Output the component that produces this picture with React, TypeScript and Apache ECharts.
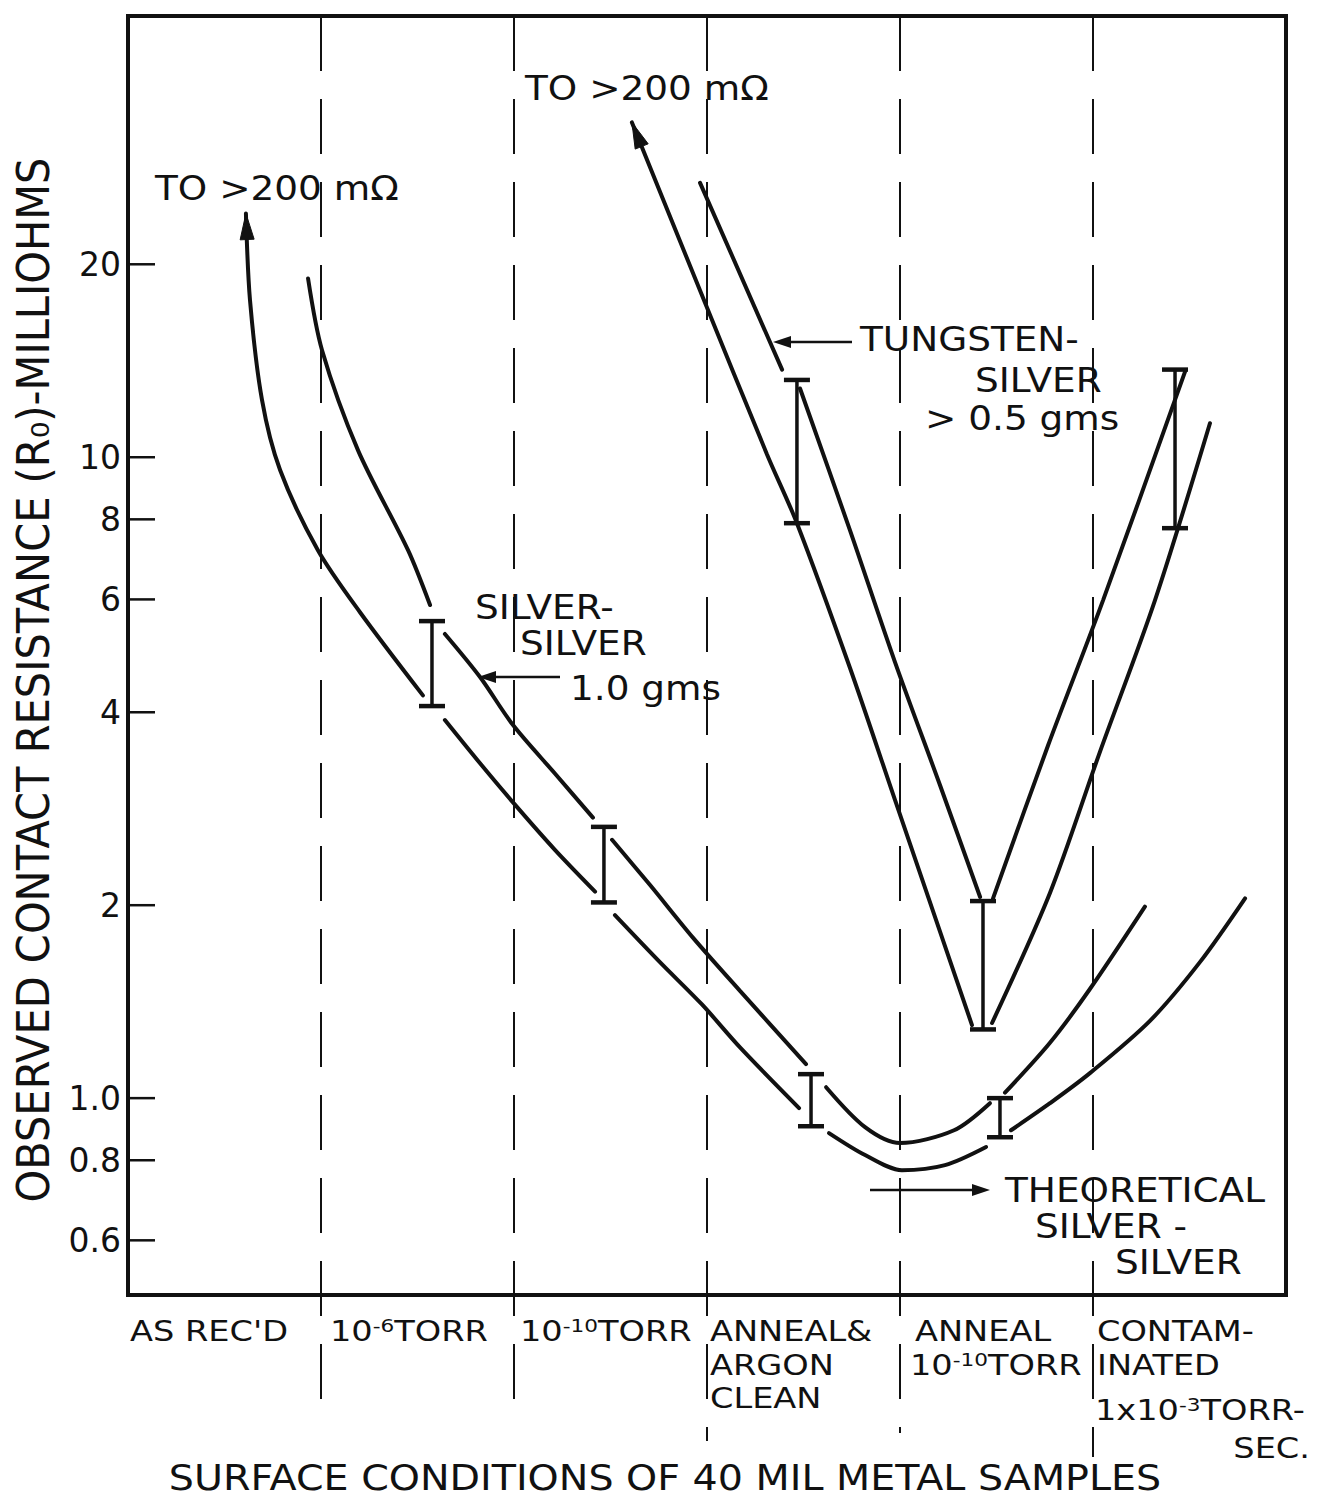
import React, { useEffect, useRef } from "react";
import * as echarts from "echarts";

// ---------- axis ranges and ticks ----------
const xMin = 0;
const xMax = 6;
const yMin = 0.493;
const yMax = 48.8;
const yTickValues = [0.6, 0.8, 1.0, 2, 4, 6, 8, 10, 20];
const yTickLabels = ["0.6", "0.8", "1.0", "2", "4", "6", "8", "10", "20"];
const sectionDividers = [1, 2, 3, 4, 5];

// ---------- curves (x = surface-condition position, y = milliohms) ----------
const silverLowerSegments: number[][][] = [
  [[0.611, 24.0], [0.632, 17.6], [0.694, 12.3], [0.788, 9.55], [0.984, 7.16], [1.202, 5.73], [1.528, 4.25]],
  [[1.642, 3.89], [1.824, 3.33], [2.005, 2.87], [2.212, 2.44], [2.42, 2.1]],
  [[2.523, 1.93], [2.756, 1.63], [2.974, 1.4], [3.171, 1.2], [3.477, 0.965]],
  [[3.632, 0.882], [3.819, 0.815], [4.01, 0.772], [4.233, 0.786], [4.446, 0.839]],
  [[4.575, 0.891], [4.777, 0.982], [4.984, 1.094], [5.295, 1.32], [5.554, 1.63], [5.788, 2.05]],
];
const silverUpperSegments: number[][][] = [
  [[0.933, 19.0], [1.005, 14.7], [1.192, 10.25], [1.451, 7.16], [1.565, 5.88]],
  [[1.642, 5.3], [1.824, 4.54], [1.995, 3.82], [2.212, 3.21], [2.409, 2.74]],
  [[2.508, 2.53], [2.705, 2.15], [2.927, 1.78], [3.171, 1.47], [3.513, 1.13]],
  [[3.617, 1.04], [3.819, 0.901], [4.0, 0.851], [4.28, 0.891], [4.466, 0.982]],
  [[4.544, 1.02], [4.777, 1.22], [4.984, 1.48], [5.269, 1.99]],
];
const tungstenLowerSegments: number[][][] = [
  [[2.611, 33.3], [2.964, 18.2], [3.311, 10.1], [3.466, 7.89], [3.741, 4.69], [3.974, 2.92], [4.373, 1.3]],
  [[4.477, 1.31], [4.777, 2.09], [5.036, 3.47], [5.321, 5.98], [5.606, 11.3]],
];
const tungstenUpperSegments: number[][][] = [
  [[2.964, 26.8], [3.389, 13.7]],
  [[3.482, 12.8], [3.741, 7.69], [3.974, 4.79], [4.207, 3.08], [4.415, 2.06]],
  [[4.482, 2.05], [4.767, 3.55], [5.052, 5.98], [5.477, 13.6]],
];
// [x, low, high]
const silverErrorBars = [
  [1.575, 4.09, 5.55],
  [2.466, 2.02, 2.65],
  [3.539, 0.904, 1.09],
  [4.518, 0.869, 1.0],
];
const tungstenErrorBars = [
  [3.466, 7.89, 13.2],
  [4.43, 1.28, 2.03],
  [5.425, 7.75, 13.7],
];
// [tipX, tipY, fromX, fromY]
const curveArrowTips = [
  [0.611, 24.0, 0.632, 17.6],
  [2.611, 33.3, 2.964, 18.2],
];

// ---------- texts ----------
const yAxisTitle = "OBSERVED CONTACT RESISTANCE (R\u2080)-MILLIOHMS";
const xAxisTitle = "SURFACE CONDITIONS OF 40 MIL METAL SAMPLES";
const offScaleNote = "TO >200 m\u03A9";
const tungstenLabel = ["TUNGSTEN-", "SILVER", "> 0.5 gms"];
const silverLabel = ["SILVER-", "SILVER", "1.0 gms"];
const theoreticalLabel = ["THEORETICAL", "SILVER -", "SILVER"];
const categoryLines = [
  ["AS REC'D"],
  ["10{s|-6}TORR"],
  ["10{s|-10}TORR"],
  ["ANNEAL&", "ARGON", "CLEAN"],
  ["ANNEAL", "10{s|-10}TORR"],
  ["CONTAM-", "INATED", "1x10{s|-3}TORR-", "SEC."],
];

const FONT = "'DejaVu Sans', 'Liberation Sans', sans-serif";
const INK = "#111";

function txt(x: number, y: number, text: string, size = 34, align = "left", sx = 1) {
  return {
    type: "text",
    x,
    y,
    scaleX: sx,
    silent: true,
    z: 50,
    style: {
      text,
      fill: INK,
      fontSize: size,
      fontFamily: FONT,
      align,
      verticalAlign: "middle",
      textAlign: align,
      textVerticalAlign: "middle",
      rich: {
        s: { fontSize: Math.round(size * 0.66), fontFamily: FONT, fill: INK, verticalAlign: "top" },
      },
    },
  };
}

function arrow(x1: number, y1: number, x2: number, y2: number) {
  const dx = x2 - x1;
  const dy = y2 - y1;
  const len = Math.sqrt(dx * dx + dy * dy);
  const ux = dx / len;
  const uy = dy / len;
  const hl = 18;
  const hw = 6;
  const bx = x2 - ux * hl;
  const by = y2 - uy * hl;
  return [
    { type: "line", silent: true, z: 50, shape: { x1, y1, x2: bx, y2: by }, style: { stroke: INK, lineWidth: 2.5 } },
    {
      type: "polygon",
      silent: true,
      z: 50,
      shape: { points: [[x2, y2], [bx - uy * hw, by + ux * hw], [bx + uy * hw, by - ux * hw]] },
      style: { fill: INK },
    },
  ];
}

function buildOption() {
  const curveSeries: any[] = [];
  const addSegs = (segs: number[][][], name: string) => {
    segs.forEach((seg, i) => {
      curveSeries.push({
        name: name + "-" + i,
        type: "line",
        data: seg,
        smooth: 0.3,
        showSymbol: false,
        symbol: "none",
        silent: true,
        z: 5,
        lineStyle: { color: INK, width: 4, cap: "round" },
      });
    });
  };
  addSegs(silverLowerSegments, "silverLower");
  addSegs(silverUpperSegments, "silverUpper");
  addSegs(tungstenLowerSegments, "tungstenLower");
  addSegs(tungstenUpperSegments, "tungstenUpper");

  const errorBarRender = (params: any, api: any) => {
    const x = api.value(0);
    const pLo = api.coord([x, api.value(1)]);
    const pHi = api.coord([x, api.value(2)]);
    const hw = 13;
    return {
      type: "group",
      children: [
        { type: "line", shape: { x1: pLo[0], y1: pLo[1], x2: pHi[0], y2: pHi[1] }, style: { stroke: INK, lineWidth: 3.5 } },
        { type: "line", shape: { x1: pLo[0] - hw, y1: pLo[1], x2: pLo[0] + hw, y2: pLo[1] }, style: { stroke: INK, lineWidth: 4.5 } },
        { type: "line", shape: { x1: pHi[0] - hw, y1: pHi[1], x2: pHi[0] + hw, y2: pHi[1] }, style: { stroke: INK, lineWidth: 4.5 } },
      ],
    };
  };

  const dividerEnds = [1422, 1423, 1441, 1433, 1457];
  const CAT = 28;
  const CSX = 1.2;
  const ANN = 34;
  const ASX = 1.1;

  const graphic: any[] = [
    {
      type: "text",
      x: 34,
      y: 680,
      rotation: Math.PI / 2,
      scaleX: 1.05,
      silent: true,
      style: {
        text: yAxisTitle,
        fill: INK,
        fontSize: 44,
        fontFamily: "'DejaVu Sans Condensed', 'DejaVu Sans', sans-serif",
        align: "center",
        verticalAlign: "middle",
        textAlign: "center",
        textVerticalAlign: "middle",
      },
    },
    txt(665, 1478, xAxisTitle, 36, "center", 1.1),
    txt(155, 188, offScaleNote, ANN, "left", ASX),
    txt(525, 88, offScaleNote, ANN, "left", ASX),
    txt(860, 339, tungstenLabel[0], ANN, "left", ASX),
    txt(975, 380, tungstenLabel[1], ANN, "left", ASX),
    txt(925, 418, tungstenLabel[2], ANN, "left", ASX),
    txt(475, 607, silverLabel[0], ANN, "left", ASX),
    txt(520, 643, silverLabel[1], ANN, "left", ASX),
    txt(570, 688, silverLabel[2], ANN, "left", ASX),
    txt(1005, 1190, theoreticalLabel[0], ANN, "left", ASX),
    txt(1035, 1226, theoreticalLabel[1], ANN, "left", ASX),
    txt(1115, 1262, theoreticalLabel[2], ANN, "left", ASX),
    // category labels
    txt(130, 1331, categoryLines[0][0], CAT, "left", CSX),
    txt(330, 1331, categoryLines[1][0], CAT, "left", CSX),
    txt(520, 1331, categoryLines[2][0], CAT, "left", CSX),
    txt(710, 1331, categoryLines[3][0], CAT, "left", CSX),
    txt(710, 1365, categoryLines[3][1], CAT, "left", CSX),
    txt(710, 1398, categoryLines[3][2], CAT, "left", CSX),
    txt(915, 1331, categoryLines[4][0], CAT, "left", CSX),
    txt(910, 1365, categoryLines[4][1], CAT, "left", CSX),
    txt(1097, 1331, categoryLines[5][0], CAT, "left", CSX),
    txt(1097, 1365, categoryLines[5][1], CAT, "left", CSX),
    txt(1095, 1410, categoryLines[5][2], CAT, "left", CSX),
    txt(1310, 1448, categoryLines[5][3], CAT, "right", CSX),
    ...arrow(852, 342, 773, 342),
    ...arrow(560, 677, 478, 677),
    ...arrow(870, 1190, 990, 1190),
  ];

  return {
    animation: false,
    backgroundColor: "#fff",
    grid: {
      left: 128,
      top: 16,
      right: 35,
      bottom: 210,
      show: true,
      borderColor: INK,
      borderWidth: 4,
      backgroundColor: "transparent",
      containLabel: false,
    },
    xAxis: {
      type: "value",
      min: xMin,
      max: xMax,
      show: false,
      splitLine: { show: false },
    },
    yAxis: {
      type: "log",
      logBase: 10,
      min: yMin,
      max: yMax,
      show: false,
      splitLine: { show: false },
    },
    graphic,
    series: [
      ...curveSeries,
      {
        name: "silverBars",
        type: "custom",
        clip: false,
        silent: true,
        z: 6,
        data: silverErrorBars,
        encode: { x: 0, y: [1, 2] },
        renderItem: errorBarRender,
      },
      {
        name: "tungstenBars",
        type: "custom",
        clip: false,
        silent: true,
        z: 6,
        data: tungstenErrorBars,
        encode: { x: 0, y: [1, 2] },
        renderItem: errorBarRender,
      },
      {
        name: "dividers",
        type: "custom",
        clip: false,
        silent: true,
        z: 2,
        data: sectionDividers.map((v) => [v, yMax]),
        encode: { x: 0, y: 1 },
        renderItem: (params: any, api: any) => {
          const p = api.coord([api.value(0), yMax]);
          const end = dividerEnds[params.dataIndex];
          return {
            type: "line",
            shape: { x1: p[0], y1: p[1], x2: p[0], y2: end },
            style: { stroke: INK, lineWidth: 2, lineDash: [55, 28] },
          };
        },
      },
      {
        name: "yTicks",
        type: "custom",
        clip: false,
        silent: true,
        z: 7,
        data: yTickValues.map((v) => [xMin, v]),
        encode: { x: 0, y: 1 },
        renderItem: (params: any, api: any) => {
          const p = api.coord([api.value(0), api.value(1)]);
          return {
            type: "group",
            children: [
              { type: "line", shape: { x1: p[0], y1: p[1], x2: p[0] + 27, y2: p[1] }, style: { stroke: INK, lineWidth: 2.5 } },
              {
                type: "text",
                x: p[0] - 7,
                y: p[1],
                style: {
                  text: yTickLabels[params.dataIndex],
                  fill: INK,
                  fontSize: 33,
                  fontFamily: FONT,
                  align: "right",
                  verticalAlign: "middle",
                  textAlign: "right",
                  textVerticalAlign: "middle",
                },
              },
            ],
          };
        },
      },
      {
        name: "curveArrows",
        type: "custom",
        clip: false,
        silent: true,
        z: 8,
        data: curveArrowTips,
        encode: { x: 0, y: 1 },
        renderItem: (params: any, api: any) => {
          const tip = api.coord([api.value(0), api.value(1)]);
          const from = api.coord([api.value(2), api.value(3)]);
          const dx = tip[0] - from[0];
          const dy = tip[1] - from[1];
          const len = Math.sqrt(dx * dx + dy * dy);
          const ux = dx / len;
          const uy = dy / len;
          const hl = 26;
          const hw = 7;
          const bx = tip[0] - ux * hl;
          const by = tip[1] - uy * hl;
          return {
            type: "polygon",
            shape: { points: [[tip[0], tip[1]], [bx - uy * hw, by + ux * hw], [bx + uy * hw, by - ux * hw]] },
            style: { fill: INK, stroke: INK, lineWidth: 1 },
          };
        },
      },
    ],
  };
}

export default function App() {
  const ref = useRef<HTMLDivElement>(null);
  useEffect(() => {
    if (!ref.current) return;
    const chart = echarts.init(ref.current, null, { renderer: "svg" });
    chart.setOption(buildOption() as any);
    return () => chart.dispose();
  }, []);
  return (
    <div
      ref={ref}
      style={{ position: "absolute", left: 0, top: 0, width: 1321, height: 1505, background: "#fff" }}
    />
  );
}
